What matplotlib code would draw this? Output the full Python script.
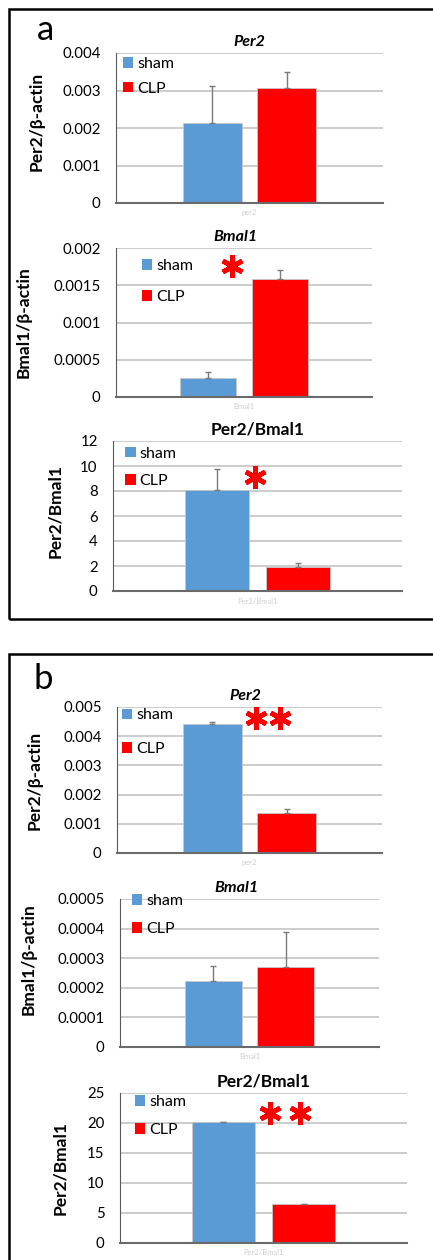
import matplotlib
matplotlib.use('Agg')
import matplotlib.pyplot as plt
from matplotlib.patches import Patch, Rectangle

plt.rcParams['font.family'] = ['Lato', 'DejaVu Sans']

# data
groups = ['sham', 'CLP']
titles = ['Per2', 'Bmal1', 'Per2/Bmal1']
xcats = ['per2', 'Bmal1', 'Per2/Bmal1']
ylabels = ['Per2/\u03b2-actin', 'Bmal1/\u03b2-actin', 'Per2/Bmal1']

sham_a = [0.00214, 0.000255, 8.06]
sham_a_err = [0.00098, 0.000075, 1.74]
clp_a = [0.00307, 0.00159, 1.94]
clp_a_err = [0.00043, 0.00011, 0.32]

sham_b = [0.00443, 0.000224, 20.15]
sham_b_err = [0.00005, 0.00005, 0.05]
clp_b = [0.00136, 0.00027, 6.48]
clp_b_err = [0.00014, 0.00012, 0.07]

yticks_a = [[0, 0.001, 0.002, 0.003, 0.004],
            [0, 0.0005, 0.001, 0.0015, 0.002],
            [0, 2, 4, 6, 8, 10, 12]]
ytick_labels_a = [['0', '0.001', '0.002', '0.003', '0.004'],
                  ['0', '0.0005', '0.001', '0.0015', '0.002'],
                  ['0', '2', '4', '6', '8', '10', '12']]
yticks_b = [[0, 0.001, 0.002, 0.003, 0.004, 0.005],
            [0, 0.0001, 0.0002, 0.0003, 0.0004, 0.0005],
            [0, 5, 10, 15, 20, 25]]
ytick_labels_b = [['0', '0.001', '0.002', '0.003', '0.004', '0.005'],
                  ['0', '0.0001', '0.0002', '0.0003', '0.0004', '0.0005'],
                  ['0', '5', '10', '15', '20', '25']]

# significance stars (axes fraction)
stars_a = [[], [(0.453, 0.877)], [(0.491, 0.76)]]
stars_b = [[(0.524, 0.928), (0.614, 0.928)], [], [(0.523, 0.866), (0.626, 0.866)]]

SHAM = '#5b9bd5'
CLP = '#ff0000'

W, H = 433, 1260
fig = plt.figure(figsize=(W / 100, H / 100), dpi=100)


def px_axes(l, t, r, b):
    return fig.add_axes([l / W, 1 - b / H, (r - l) / W, (b - t) / H])


# layout per subplot: axes box px, title x, ylabel pos, legend anchor, labelspacing, xlabel pad
layout = [
    dict(box=(116, 53, 383, 203), tx=0.5, tital=True, yl=(-0.266, 0.547), leg=(0.026, 0.972), ls=0.65, xp=4),
    dict(box=(116, 248, 372, 397), tx=0.465, tital=True, yl=(-0.328, 0.5), leg=(0.10, 0.926), ls=1.05, xp=4),
    dict(box=(113, 441, 402, 591), tx=0.5, tital=False, yl=(-0.173, 0.536), leg=(0.042, 0.963), ls=0.85, xp=5),
    dict(box=(117, 707, 382, 853), tx=0.483, tital=True, yl=(-0.279, 0.5), leg=(0.019, 0.99), ls=1.25, xp=4),
    dict(box=(120, 899, 379, 1047), tx=0.45, tital=True, yl=(-0.32, 0.595), leg=(0.046, 1.032), ls=0.85, xp=4),
    dict(box=(120, 1093, 407, 1243), tx=0.5, tital=False, yl=(-0.181, 0.5), leg=(0.052, 0.987), ls=0.9, xp=4),
]

panels = [
    (sham_a, sham_a_err, clp_a, clp_a_err, yticks_a, ytick_labels_a, stars_a),
    (sham_b, sham_b_err, clp_b, clp_b_err, yticks_b, ytick_labels_b, stars_b),
]

k = 0
for sham, sham_err, clp, clp_err, yticks, ytl, stars in panels:
    for i in range(3):
        lay = layout[k]
        ax = px_axes(*lay['box'])
        vals = [sham[i], clp[i]]
        errs = [sham_err[i], clp_err[i]]
        ax.bar([0, 1], vals, width=0.79, color=[SHAM, CLP], edgecolor='#c8c8c8', linewidth=0.6, zorder=2)
        ax.errorbar([0, 1], vals, yerr=[[0, 0], errs], fmt='none', ecolor='#7a7a7a',
                    elinewidth=1, capsize=2.5, capthick=1, zorder=3)
        ax.set_xlim(-1.29, 2.29)
        ax.set_ylim(yticks[i][0], yticks[i][-1])
        ax.set_yticks(yticks[i])
        ax.set_yticklabels(ytl[i], fontsize=10.8)
        ax.tick_params(axis='y', length=0, pad=11)
        ax.set_xticks([])
        ax.set_xlabel(xcats[i], fontsize=5.5, color='#cfcfcf', labelpad=lay['xp'])
        ax.yaxis.grid(True, color='#c4c4c4', linewidth=1.2)
        ax.set_axisbelow(True)
        for s in ['top', 'right']:
            ax.spines[s].set_visible(False)
        ax.spines['left'].set_color('#5a5a5a')
        ax.spines['left'].set_linewidth(0.8)
        ax.spines['bottom'].set_color('#6a6a6a')
        ax.spines['bottom'].set_linewidth(1.5)
        ax.set_ylabel(ylabels[i], fontsize=12.5, fontweight='bold')
        ax.yaxis.set_label_coords(*lay['yl'])
        ax.text(lay['tx'], 1.025, titles[i], transform=ax.transAxes, ha='center', va='bottom',
                fontsize=11.5 if lay['tital'] else 12.5, fontweight='bold',
                style='italic' if lay['tital'] else 'normal')
        handles = [Patch(facecolor=SHAM), Patch(facecolor=CLP)]
        ax.legend(handles, groups, loc='upper left', bbox_to_anchor=lay['leg'], frameon=False,
                  fontsize=11.5, handlelength=0.65, handleheight=0.65, handletextpad=0.25,
                  borderpad=0, borderaxespad=0, labelspacing=lay['ls'])
        for sx, sy in stars[i]:
            ax.plot(sx, sy, marker=(6, 2, 0), ms=16, mew=3.4, color='red',
                    transform=ax.transAxes, clip_on=False, zorder=5)
        k += 1

# panel frames and letters
fig.add_artist(Rectangle((9 / W, 1 - 619 / H), 440 / W, 610 / H, transform=fig.transFigure,
                         fill=False, edgecolor='black', linewidth=1.8))
fig.add_artist(Rectangle((9 / W, 1 - 1275 / H), 440 / W, 621 / H, transform=fig.transFigure,
                         fill=False, edgecolor='black', linewidth=1.8))
fig.text(45 / W, 1 - 30 / H, 'a', fontsize=25, ha='center', va='center')
fig.text(43 / W, 1 - 679 / H, 'b', fontsize=25, ha='center', va='center')

fig.savefig('out.png', dpi=100)
